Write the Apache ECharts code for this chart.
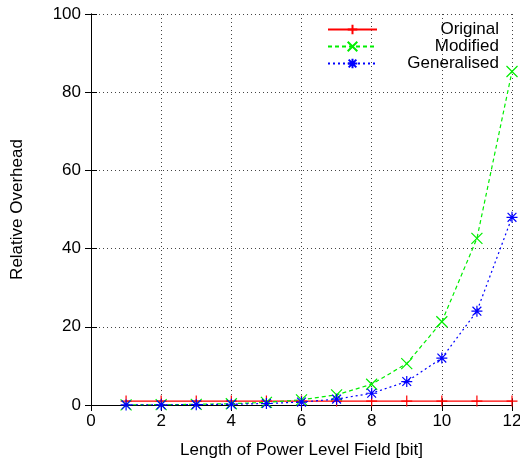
<!DOCTYPE html>
<html>
<head>
<meta charset="utf-8">
<script src="https://cdn.jsdelivr.net/npm/echarts@6/dist/echarts.min.js"></script>
<style>
  html, body { margin: 0; padding: 0; background: #fff; }
  #chart { width: 520px; height: 462px; }
</style>
</head>
<body>
<div id="chart"></div>
<script>
var bits = [1, 2, 3, 4, 5, 6, 7, 8, 9, 10, 11, 12];
var original = [1, 1, 1, 1, 1, 1, 1, 1, 1, 1, 1, 1];
var modified = [0.04, 0.08, 0.17, 0.33, 0.67, 1.33, 2.6, 5.3, 10.6, 21.3, 42.6, 85.3];
var generalised = [0.02, 0.05, 0.09, 0.19, 0.38, 0.75, 1.5, 3.0, 6.0, 12.0, 24.0, 48.0];

function pairs(vals) {
  return bits.map(function (b, i) { return [b, vals[i]]; });
}

var font = 'Liberation Sans';
var plus = 'path://M0,-5L0,5M-5,0L5,0';
var cross = 'path://M-5,-5L5,5M-5,5L5,-5';
var star = 'path://M0,-5L0,5M-5,0L5,0M-4,-4L4,4M-4,4L4,-4';

var myChart = echarts.init(document.getElementById('chart'));

function lineSeries(name, vals, color, type, sym) {
  return {
    name: name,
    type: 'line',
    data: pairs(vals),
    symbol: sym,
    symbolSize: 11,
    symbolKeepAspect: true,
    lineStyle: { color: color, width: 1.2, type: type },
    itemStyle: { color: color, borderColor: color, borderWidth: 1.2 },
    emphasis: { disabled: true },
    animation: false
  };
}

var option = {
  animation: false,
  grid: { left: 91, right: 8, top: 14, bottom: 57, outerBoundsMode: 'none', containLabel: false },
  legend: {
    orient: 'vertical',
    left: 322,
    top: 16,
    itemGap: 0,
    itemWidth: 49,
    itemHeight: 12,
    formatter: '{t|{name}}',
    textStyle: {
      rich: { t: { fontFamily: font, fontSize: 17, lineHeight: 17, color: '#000', width: 117, align: 'right' } }
    },
    data: ['Original', 'Modified', 'Generalised']
  },
  xAxis: [{
    type: 'value',
    min: 0, max: 12, interval: 2,
    name: 'Length of Power Level Field [bit]',
    nameLocation: 'middle',
    nameGap: 37,
    nameTextStyle: { fontFamily: font, fontSize: 17, color: '#000' },
    axisLine: { lineStyle: { color: '#000', width: 1 } },
    axisTick: { inside: true, length: 6, lineStyle: { color: '#000' } },
    axisLabel: { fontFamily: font, fontSize: 17, color: '#000', margin: 8 },
    splitLine: { show: true, lineStyle: { color: '#444', type: [1, 3], width: 1 } }
  }, {
    type: 'value', position: 'top',
    min: 0, max: 12, interval: 2,
    axisLine: { lineStyle: { color: '#000', width: 1 } },
    axisTick: { inside: true, length: 6, lineStyle: { color: '#000' } },
    axisLabel: { show: false },
    splitLine: { show: false }
  }],
  yAxis: [{
    type: 'value',
    min: 0, max: 100, interval: 20,
    name: 'Relative Overhead',
    nameLocation: 'middle',
    nameGap: 65,
    nameTextStyle: { fontFamily: font, fontSize: 17, color: '#000' },
    axisLine: { show: true, lineStyle: { color: '#000', width: 1 } },
    axisTick: { show: true, inside: true, length: 6, lineStyle: { color: '#000' } },
    axisLabel: { fontFamily: font, fontSize: 17, color: '#000', margin: 10 },
    splitLine: { show: true, lineStyle: { color: '#444', type: [1, 3], width: 1 } }
  }, {
    type: 'value', position: 'right',
    min: 0, max: 100, interval: 20,
    axisLine: { show: true, lineStyle: { color: '#000', width: 1 } },
    axisTick: { show: true, inside: true, length: 6, lineStyle: { color: '#000' } },
    axisLabel: { show: false },
    splitLine: { show: false }
  }],
  series: [
    lineSeries('Original', original, '#ff0000', 'solid', plus),
    lineSeries('Modified', modified, '#00ee00', [4, 3], cross),
    lineSeries('Generalised', generalised, '#0000ff', [2, 3], star)
  ]
};

myChart.setOption(option);
</script>
</body>
</html>
